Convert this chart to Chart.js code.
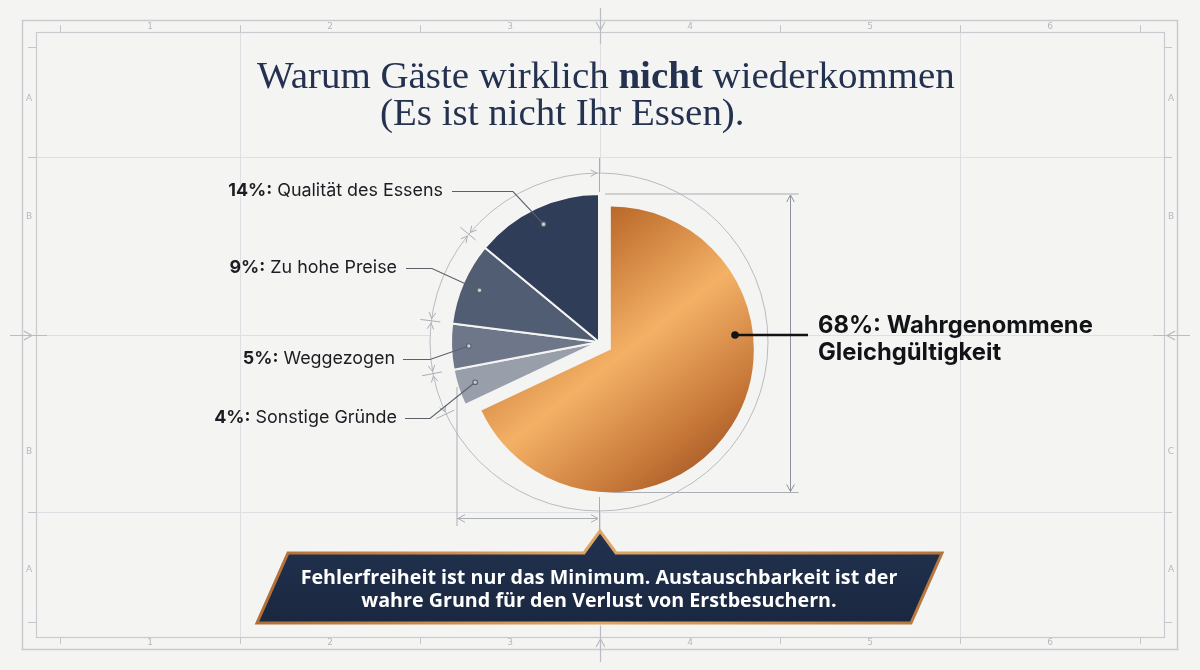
<!DOCTYPE html>
<html>
<head>
<meta charset="utf-8">
<script src="https://cdn.jsdelivr.net/npm/chart.js@4.4.1/dist/chart.umd.min.js"></script>
<style>
  html, body { margin: 0; padding: 0; background: #f4f4f2; }
  canvas { display: block; }
</style>
</head>
<body>
<canvas id="chart" width="1200" height="670"></canvas>
<script>
// Gründe, warum Gäste nicht wiederkommen — blueprint style pie

const CATEGORIES = ['Wahrgenommene Gleichgültigkeit', 'Sonstige Gründe', 'Weggezogen', 'Zu hohe Preise', 'Qualität des Essens'];
const VALUES = [68, 4, 5, 9, 14];
const SLICE_COLORS = [null, '#999eab', '#6e778a', '#515d73', '#2f3d58'];

const COLUMN_LABELS = ['1', '2', '3', '4', '5', '6'];
const ROW_LABELS_LEFT = ['A', 'B', 'B', 'A'];
const ROW_LABELS_RIGHT = ['A', 'B', 'C', 'A'];

const TITLE_LINE_1 = [['Warum Gäste wirklich ', false], ['nicht', true], [' wiederkommen', false]];
const TITLE_LINE_2 = '(Es ist nicht Ihr Essen).';
const MAIN_LABEL = ['Wahrgenommene', 'Gleichgültigkeit'];
const CALLOUT_LINES = [
    'Fehlerfreiheit ist nur das Minimum. Austauschbarkeit ist der',
    'wahre Grund für den Verlust von Erstbesuchern.'
];

const BG = '#f4f4f2';
const GRID = '#dddfe2';
const FRAME = '#c8cbd0';
const RULER = '#b5b8be';
const DIM = '#a9adb4';
const INK = '#1b1d22';
const SANS = 'Inter, "Open Sans", sans-serif';
const SERIF = '"Liberation Serif", "DejaVu Serif", serif';

// label placement for the small slices (index into VALUES)
const LEADERS = {
    4: { y: 191, right: 443, start: 452, elbow: 513 },
    3: { y: 268, right: 397, start: 406, elbow: 432 },
    2: { y: 359, right: 395, start: 403, elbow: 430 },
    1: { y: 418, right: 397, start: 405, elbow: 430 }
};

function fitSize(ctx, parts, family, target) {
    let w = 0;
    parts.forEach(([t, bold]) => {
        ctx.font = `${bold ? 700 : 400} 100px ${family}`;
        w += ctx.measureText(t).width;
    });
    return 100 * target / w;
}

function copper(context) {
    const chart = context.chart;
    const a = chart.chartArea;
    if (!a) return '#d98c4a';
    const cx = (a.left + a.right) / 2, cy = (a.top + a.bottom) / 2;
    const g = chart.ctx.createLinearGradient(cx - 100, cy - 122, cx + 124, cy + 164);
    g.addColorStop(0, '#984a1f');
    g.addColorStop(0.2, '#c0702f');
    g.addColorStop(0.5, '#f4b166');
    g.addColorStop(0.78, '#c57637');
    g.addColorStop(1, '#8f461d');
    return g;
}

function chevron(ctx, tipX, tipY, dirX, dirY, size) {
    // arrow tip pointing along (dirX, dirY)
    const len = Math.hypot(dirX, dirY) || 1;
    const ux = dirX / len, uy = dirY / len;
    const px = -uy, py = ux;
    ctx.beginPath();
    ctx.moveTo(tipX - ux * size + px * size * 0.55, tipY - uy * size + py * size * 0.55);
    ctx.lineTo(tipX, tipY);
    ctx.lineTo(tipX - ux * size - px * size * 0.55, tipY - uy * size - py * size * 0.55);
    ctx.stroke();
}

// shift the big slice out like an exploded wedge
const explodePlugin = {
    id: 'explode',
    afterDatasetsUpdate(chart) {
        const arc = chart.getDatasetMeta(0).data[0];
        const mid = (arc.startAngle + arc.endAngle) / 2;
        arc.x += Math.cos(mid) * 14;
        arc.y += Math.sin(mid) * 14;
        arc.outerRadius -= 5;
    }
};

const blueprintPlugin = {
    id: 'blueprint',
    beforeDraw(chart) {
        const ctx = chart.ctx;
        const meta = chart.getDatasetMeta(0);
        const cx = meta.data[1].x, cy = meta.data[1].y;
        ctx.save();
        ctx.fillStyle = BG;
        ctx.fillRect(0, 0, chart.width, chart.height);

        // grid
        ctx.strokeStyle = GRID;
        ctx.lineWidth = 1;
        [240, 600, 960].forEach(x => {
            ctx.beginPath(); ctx.moveTo(x + 0.5, 32); ctx.lineTo(x + 0.5, 637); ctx.stroke();
        });
        [157, 335, 512].forEach(y => {
            ctx.beginPath(); ctx.moveTo(36, y + 0.5); ctx.lineTo(1164, y + 0.5); ctx.stroke();
        });

        // frames
        ctx.strokeStyle = FRAME;
        ctx.lineWidth = 1.5;
        ctx.strokeRect(22.5, 20.5, 1155, 629);
        ctx.lineWidth = 1.2;
        ctx.strokeRect(36.5, 32.5, 1128, 605);

        // ruler ticks and labels
        ctx.strokeStyle = '#c3c6cb';
        ctx.lineWidth = 1;
        for (let i = 0; i < 7; i++) {
            const x = 60 + i * 180 + 0.5;
            ctx.beginPath(); ctx.moveTo(x, 25); ctx.lineTo(x, 32); ctx.stroke();
            ctx.beginPath(); ctx.moveTo(x, 637); ctx.lineTo(x, 644); ctx.stroke();
        }
        [47, 157, 512, 622].forEach(y => {
            ctx.beginPath(); ctx.moveTo(28, y + 0.5); ctx.lineTo(36, y + 0.5); ctx.stroke();
            ctx.beginPath(); ctx.moveTo(1164, y + 0.5); ctx.lineTo(1172, y + 0.5); ctx.stroke();
        });
        ctx.fillStyle = RULER;
        ctx.font = '9px "DejaVu Sans", sans-serif';
        ctx.textAlign = 'center';
        ctx.textBaseline = 'middle';
        COLUMN_LABELS.forEach((t, i) => {
            ctx.fillText(t, 150 + i * 180, 27);
            ctx.fillText(t, 150 + i * 180, 643);
        });
        const rowY = [99, 217, 452, 570];
        ROW_LABELS_LEFT.forEach((t, i) => ctx.fillText(t, 29, rowY[i]));
        ROW_LABELS_RIGHT.forEach((t, i) => ctx.fillText(t, 1171, rowY[i]));

        // centre marks
        ctx.strokeStyle = '#b9bcc2';
        ctx.lineWidth = 1.2;
        ctx.beginPath(); ctx.moveTo(600.5, 8); ctx.lineTo(600.5, 44); ctx.stroke();
        chevron(ctx, 600.5, 30, 0, 1, 8);
        ctx.beginPath(); ctx.moveTo(600.5, 626); ctx.lineTo(600.5, 662); ctx.stroke();
        chevron(ctx, 600.5, 639, 0, -1, 8);
        ctx.beginPath(); ctx.moveTo(10, 335.5); ctx.lineTo(47, 335.5); ctx.stroke();
        chevron(ctx, 32, 335.5, 1, 0, 8);
        ctx.beginPath(); ctx.moveTo(1153, 335.5); ctx.lineTo(1190, 335.5); ctx.stroke();
        chevron(ctx, 1167, 335.5, -1, 0, 8);

        // clear disc behind the pie and draw the measuring circle
        ctx.fillStyle = BG;
        ctx.beginPath(); ctx.arc(cx, cy, 169, 0, Math.PI * 2); ctx.fill();
        ctx.strokeStyle = '#b8bcc3';
        ctx.lineWidth = 1;
        ctx.beginPath(); ctx.arc(cx, cy, 169, 0, Math.PI * 2); ctx.stroke();
        ctx.restore();
    },
    afterDatasetsDraw(chart) {
        const ctx = chart.ctx;
        const arcs = chart.getDatasetMeta(0).data;
        const big = arcs[0];
        const cx = arcs[1].x, cy = arcs[1].y, R = arcs[1].outerRadius;
        ctx.save();

        // ---- dimension marks
        ctx.strokeStyle = DIM;
        ctx.lineWidth = 1;
        const darkStart = arcs[1].startAngle, darkEnd = arcs[arcs.length - 1].endAngle;
        const bounds = arcs.slice(1).map(a => a.startAngle).concat([darkEnd]);
        bounds.forEach(b => {
            if (b < darkEnd - 0.01) {
                ctx.beginPath();
                ctx.moveTo(cx + Math.cos(b) * 160, cy + Math.sin(b) * 160);
                ctx.lineTo(cx + Math.cos(b) * 180, cy + Math.sin(b) * 180);
                ctx.stroke();
            }
            [-1, 1].forEach(side => {
                const a = b + side * 0.014;
                if (a < darkStart || a > darkEnd) return;
                const tx = cx + Math.cos(a) * 169, ty = cy + Math.sin(a) * 169;
                // tangent pointing toward the boundary
                const dx = Math.sin(a) * side, dy = -Math.cos(a) * side;
                chevron(ctx, tx, ty, dx, dy, 6);
            });
        });
        // top and bottom centre extension
        ctx.beginPath(); ctx.moveTo(cx + 0.5, cy - 184); ctx.lineTo(cx + 0.5, cy - R - 2); ctx.stroke();
        ctx.beginPath(); ctx.moveTo(cx + 0.5, cy + 155); ctx.lineTo(cx + 0.5, 535); ctx.stroke();
        // bottom horizontal dimension
        const leftX = cx - R + 6;
        ctx.beginPath(); ctx.moveTo(leftX, cy + 45); ctx.lineTo(leftX, cy + 184); ctx.stroke();
        ctx.beginPath(); ctx.moveTo(leftX, cy + 176.5); ctx.lineTo(cx - 1, cy + 176.5); ctx.stroke();
        chevron(ctx, leftX + 1, cy + 176.5, -1, 0, 7);
        chevron(ctx, cx - 1, cy + 176.5, 1, 0, 7);
        // right vertical dimension
        const top = cy - R, bottom = big.y + big.outerRadius;
        const dimX = cx + 191.5;
        ctx.beginPath(); ctx.moveTo(cx + 6, top); ctx.lineTo(dimX + 8, top); ctx.stroke();
        ctx.beginPath(); ctx.moveTo(big.x + 2, bottom); ctx.lineTo(dimX + 8, bottom); ctx.stroke();
        ctx.strokeStyle = '#8e939b';
        ctx.beginPath(); ctx.moveTo(dimX, top + 1); ctx.lineTo(dimX, bottom - 1); ctx.stroke();
        chevron(ctx, dimX, top + 1, 0, -1, 7);
        chevron(ctx, dimX, bottom - 1, 0, 1, 7);

        // ---- leader lines + labels for the small slices
        const labelSize = fitSize(ctx, [['14%:', true], [' Qualität des Essens', false]], SANS, 215);
        Object.keys(LEADERS).forEach(k => {
            const i = +k;
            const a = arcs[i];
            const L = LEADERS[k];
            const mid = (a.startAngle + a.endAngle) / 2;
            const dx = a.x + Math.cos(mid) * R * 0.88, dy = a.y + Math.sin(mid) * R * 0.88;
            ctx.strokeStyle = '#5b6069';
            ctx.lineWidth = 1.1;
            ctx.beginPath();
            ctx.moveTo(L.start, L.y + 0.5);
            ctx.lineTo(L.elbow, L.y + 0.5);
            ctx.lineTo(dx, dy);
            ctx.stroke();
            ctx.fillStyle = '#c9ccd2';
            ctx.beginPath(); ctx.arc(dx, dy, 2.3, 0, Math.PI * 2); ctx.fill(); ctx.stroke();

            const pct = `${VALUES[i]}%:`;
            const rest = ' ' + CATEGORIES[i];
            ctx.textBaseline = 'middle';
            ctx.textAlign = 'left';
            ctx.font = `400 ${labelSize}px ${SANS}`;
            const wr = ctx.measureText(rest).width;
            ctx.font = `700 ${labelSize}px ${SANS}`;
            const wp = ctx.measureText(pct).width;
            const x0 = L.right - wr - wp;
            ctx.fillStyle = INK;
            ctx.fillText(pct, x0, L.y);
            ctx.font = `400 ${labelSize}px ${SANS}`;
            ctx.fillText(rest, x0 + wp, L.y);
        });

        // ---- main slice label
        const ly = cy - 7;
        ctx.strokeStyle = '#111317';
        ctx.fillStyle = '#111317';
        ctx.lineWidth = 2.5;
        ctx.beginPath(); ctx.moveTo(cx + 136, ly); ctx.lineTo(cx + 209, ly); ctx.stroke();
        ctx.beginPath(); ctx.arc(cx + 136, ly, 3.8, 0, Math.PI * 2); ctx.fill();
        const mainSize = fitSize(ctx, [[`${VALUES[0]}%: ${MAIN_LABEL[0]}`, true]], SANS, 275);
        ctx.font = `700 ${mainSize}px ${SANS}`;
        ctx.textAlign = 'left';
        ctx.textBaseline = 'alphabetic';
        ctx.fillText(`${VALUES[0]}%: ${MAIN_LABEL[0]}`, cx + 219, ly - 2);
        ctx.fillText(MAIN_LABEL[1], cx + 219, ly + 25);

        // ---- title
        const tSize = fitSize(ctx, TITLE_LINE_1, SERIF, 698);
        ctx.fillStyle = '#243250';
        let tx = 257;
        TITLE_LINE_1.forEach(([t, bold]) => {
            ctx.font = `${bold ? 700 : 400} ${tSize}px ${SERIF}`;
            ctx.fillText(t, tx, 88);
            tx += ctx.measureText(t).width;
        });
        ctx.font = `400 ${tSize}px ${SERIF}`;
        ctx.fillText(TITLE_LINE_2, 380, 125);

        // ---- callout box
        ctx.beginPath();
        ctx.moveTo(288, 553);
        ctx.lineTo(584, 553);
        ctx.lineTo(600, 531);
        ctx.lineTo(616, 553);
        ctx.lineTo(942, 553);
        ctx.lineTo(911, 623);
        ctx.lineTo(257, 623);
        ctx.closePath();
        const fill = ctx.createLinearGradient(0, 531, 0, 623);
        fill.addColorStop(0, '#22324f');
        fill.addColorStop(1, '#1a2740');
        ctx.fillStyle = fill;
        ctx.fill();
        const gold = ctx.createLinearGradient(257, 0, 942, 0);
        gold.addColorStop(0, '#b06f37');
        gold.addColorStop(0.5, '#e0a663');
        gold.addColorStop(1, '#b5763d');
        ctx.strokeStyle = gold;
        ctx.lineWidth = 3;
        ctx.lineJoin = 'miter';
        ctx.stroke();

        const cSize = fitSize(ctx, [[CALLOUT_LINES[0], true]], '"Open Sans", sans-serif', 597);
        ctx.font = `700 ${cSize}px "Open Sans", sans-serif`;
        ctx.fillStyle = '#ffffff';
        ctx.textAlign = 'center';
        ctx.textBaseline = 'middle';
        ctx.fillText(CALLOUT_LINES[0], 599, 578);
        ctx.fillText(CALLOUT_LINES[1], 599, 601);
        ctx.restore();
    }
};

const sliceColors = SLICE_COLORS.map((c, i) => (i === 0 ? copper : c));

new Chart(document.getElementById('chart'), {
    type: 'pie',
    data: {
        labels: CATEGORIES,
        datasets: [{
            data: VALUES,
            backgroundColor: ctx => {
                const c = sliceColors[ctx.dataIndex];
                return typeof c === 'function' ? c(ctx) : c;
            },
            borderColor: BG,
            borderWidth: VALUES.map((_, i) => (i === 0 ? 0 : 2)),
            radius: 148
        }]
    },
    options: {
        responsive: false,
        animation: false,
        events: [],
        layout: { padding: { left: 300, right: 302, top: 100, bottom: 86 } },
        plugins: {
            legend: { display: false },
            tooltip: { enabled: false }
        }
    },
    plugins: [explodePlugin, blueprintPlugin]
});
</script>
</body>
</html>
